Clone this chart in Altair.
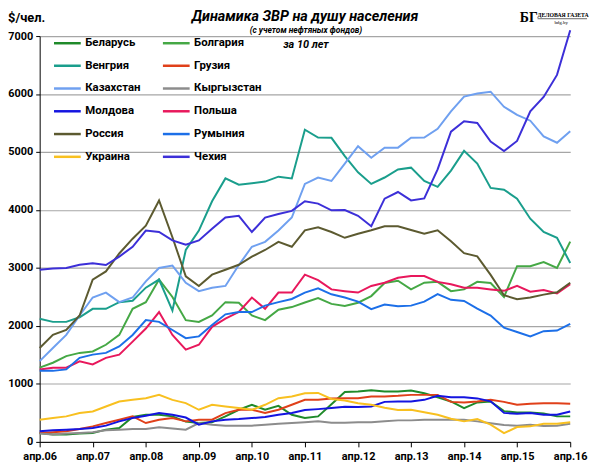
import altair as alt
import pandas as pd

# quarterly readings, apr.06 .. apr.16 ($ per person)
countries = ["Беларусь", "Болгария", "Венгрия", "Грузия", "Казахстан", "Кыргызстан",
             "Молдова", "Польша", "Россия", "Румыния", "Украина", "Чехия"]
colors = ["#1f8a2a", "#45a845", "#1a9e8c", "#e0401a", "#6fa0f0", "#8c8c8c",
          "#1414e0", "#e8185c", "#5c5a30", "#1c6fe8", "#f8c020", "#3c2fd8"]

belarus = [154, 126, 126, 143, 154, 211, 240, 430, 468, 468, 440, 350, 325, 337, 440, 554, 640, 554, 622, 468,
           411, 440, 650, 860, 868, 890, 868, 868, 885, 840, 770, 697, 583, 680, 697, 530, 508, 508, 490, 440, 440]
bulgaria = [1280, 1365, 1480, 1535, 1560, 1675, 1845, 2295, 2410, 2800, 2500, 2100, 2070, 2180, 2410, 2400, 2180,
            2100, 2280, 2325, 2405, 2480, 2380, 2345, 2400, 2515, 2740, 2780, 2630, 2745, 2760, 2600, 2630, 2760,
            2740, 2500, 3030, 3030, 3100, 3000, 3455]
hungary = [2125, 2070, 2070, 2150, 2295, 2295, 2410, 2435, 2660, 2800, 2265, 3310, 3645, 4150, 4545, 4435, 4460,
           4490, 4575, 4545, 5385, 5250, 5245, 4930, 4650, 4450, 4560, 4700, 4730, 4500, 4400, 4680, 5020, 4800,
           4380, 4350, 4195, 3850, 3620, 3520, 3085]
georgia = [154, 166, 183, 223, 268, 325, 383, 440, 325, 383, 411, 354, 383, 383, 497, 554, 554, 497, 554, 640,
           725, 725, 750, 754, 754, 782, 782, 794, 811, 811, 811, 690, 680, 697, 725, 690, 640, 657, 665, 665, 657]
kazakhstan = [1393, 1620, 1845, 2180, 2490, 2575, 2410, 2490, 2770, 3000, 3040, 2745, 2600, 2660, 2690, 3050,
              3365, 3450, 3645, 3870, 4450, 4560, 4500, 4800, 5100, 4900, 5075, 5075, 5245, 5250, 5400, 5700,
              5955, 6010, 6040, 5780, 5640, 5540, 5270, 5160, 5360]
kyrgyzstan = [143, 126, 143, 154, 166, 200, 211, 223, 223, 251, 230, 211, 325, 297, 280, 280, 280, 297, 314, 325,
              337, 354, 330, 330, 337, 340, 354, 371, 371, 380, 383, 383, 383, 354, 320, 290, 280, 297, 275, 280, 314]
moldova = [183, 200, 211, 223, 240, 280, 354, 411, 451, 497, 468, 420, 297, 354, 383, 394, 411, 428, 468, 497,
           550, 565, 583, 605, 600, 611, 690, 697, 697, 725, 794, 771, 771, 750, 700, 500, 485, 497, 468, 468, 525]
poland = [1250, 1280, 1280, 1390, 1335, 1450, 1505, 1730, 1955, 2240, 1845, 1590, 1675, 1985, 2125, 2240, 2490,
          2295, 2575, 2575, 2885, 2790, 2630, 2600, 2575, 2690, 2745, 2830, 2860, 2860, 2760, 2720, 2660, 2660,
          2630, 2605, 2690, 2590, 2620, 2560, 2720]
russia = [1620, 1845, 1930, 2180, 2800, 2940, 3250, 3505, 3730, 4165, 3530, 2855, 2690, 2885, 2970, 3055, 3195,
          3310, 3450, 3365, 3650, 3700, 3620, 3520, 3590, 3650, 3720, 3720, 3655, 3590, 3650, 3460, 3255, 3200,
          2880, 2530, 2460, 2490, 2540, 2580, 2745]
romania = [1225, 1225, 1250, 1450, 1505, 1535, 1645, 1845, 2100, 2070, 1930, 1790, 1820, 2015, 2200, 2240, 2240,
           2350, 2410, 2465, 2575, 2650, 2545, 2490, 2420, 2290, 2370, 2340, 2350, 2420, 2550, 2450, 2430, 2300,
           2180, 1970, 1895, 1820, 1910, 1920, 2035]
ukraine = [383, 411, 440, 497, 525, 611, 697, 725, 754, 811, 725, 668, 554, 640, 611, 583, 554, 640, 754, 782,
           840, 845, 740, 715, 668, 640, 590, 550, 554, 510, 468, 400, 354, 395, 297, 150, 257, 268, 314, 314, 337]
czech = [2970, 2990, 3000, 3055, 3080, 3050, 3195, 3365, 3645, 3620, 3475, 3400, 3475, 3675, 3870, 3900, 3620,
         3870, 3930, 3985, 4150, 4110, 3995, 4000, 3900, 3720, 4195, 4310, 4165, 4200, 4700, 5350, 5530, 5500,
         5180, 5015, 5190, 5700, 5950, 6330, 7100]

series = [belarus, bulgaria, hungary, georgia, kazakhstan, kyrgyzstan,
          moldova, poland, russia, romania, ukraine, czech]
dates = pd.date_range("2006-04-01", periods=41, freq="3MS")
tick_dates = [f"{y}-04-01" for y in range(2006, 2017)]

rows = []
for name, vals in zip(countries, series):
    for d, v in zip(dates, vals):
        rows.append({"country": name, "date": d, "value": v})
df = pd.DataFrame(rows)

FONT = "Roboto"

lines = alt.Chart(df).mark_line(strokeWidth=2).encode(
    x=alt.X("date:T", title=None,
            scale=alt.Scale(domain=["2006-04-01", "2016-04-01"], nice=False),
            axis=alt.Axis(values=tick_dates, labelExpr="'апр.' + timeFormat(datum.value, '%y')",
                          grid=False, domainColor="black", tickColor="black", tickSize=5,
                          labelPadding=4, labelFontSize=11, labelFontWeight="bold", labelColor="black",
                          labelFont=FONT, labelFlush=False, labelOverlap=False)),
    y=alt.Y("value:Q", title=None, scale=alt.Scale(domain=[0, 7000], nice=False),
            axis=alt.Axis(values=list(range(0, 7001, 1000)), format="d", grid=True, gridColor="#a6a6a6",
                          gridWidth=1.2, domainColor="black", tickColor="black", tickSize=4,
                          labelPadding=3, labelFontSize=11, labelFontWeight="bold", labelColor="black",
                          labelFont=FONT)),
    color=alt.Color("country:N", scale=alt.Scale(domain=countries, range=colors),
                    legend=alt.Legend(title=None, orient="none", legendX=13, legendY=-8, columns=2,
                                      symbolType="stroke", symbolSize=729, symbolStrokeWidth=2.5,
                                      labelOffset=3, labelFontSize=11.5, labelFontWeight="bold",
                                      labelColor="black", labelFont=FONT, rowPadding=2,
                                      columnPadding=17, direction="horizontal")),
    order=alt.Order("date:T")
)


def label(txt, x, y, size, weight="bold", style="normal", font=FONT, align="center"):
    return alt.Chart(pd.DataFrame({"t": [txt]})).mark_text(
        fontSize=size, fontWeight=weight, fontStyle=style, font=font, align=align,
        baseline="alphabetic", color="black"
    ).encode(x=alt.value(x), y=alt.value(y), text="t:N")


title = label("Динамика ЗВР на душу населения", 268, -15, 14.5, style="italic")
subtitle = label("(с учетом нефтяных фондов)", 269, -3, 8.5, style="italic")
unit = label("$/чел.", -32, -14, 13, align="left")
period = label("за 10 лет", 269, 12, 11, style="italic")
logo_bg = label("БГ", 485, -14, 14, font="Liberation Serif", align="left")
logo_name = label("ДЕЛОВАЯ ГАЗЕТА", 503, -19, 5.8, font="Liberation Serif", align="left")
logo_site = label("bdg.by", 520, -12, 5, weight="normal", font="Liberation Serif", align="left")
logo_rule = alt.Chart(pd.DataFrame({"a": [0]})).mark_rule(color="black", strokeWidth=0.6).encode(
    x=alt.value(503), x2=alt.value(553), y=alt.value(-17.5)
)

chart = alt.layer(lines, title, subtitle, unit, period, logo_bg, logo_name, logo_site, logo_rule).properties(
    width=536, height=410,
    autosize=alt.AutoSizeParams(type="none"),
    padding={"left": 32, "top": 26, "right": 22, "bottom": 20},
    background="white"
).configure_view(stroke=None)

chart.save("out.html", embed_options={"renderer": "svg", "actions": False})
